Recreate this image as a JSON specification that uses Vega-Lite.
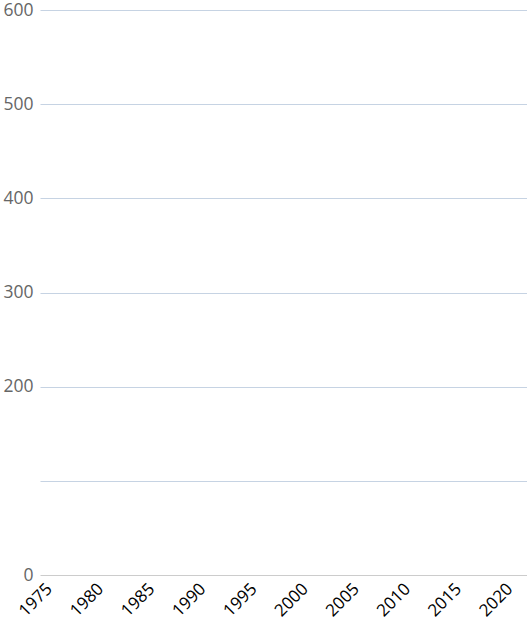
{
  "$schema": "https://vega.github.io/schema/vega-lite/v6.json",
  "autosize": "none",
  "width": 487,
  "height": 565,
  "padding": {"top": 10, "left": 40, "right": 0, "bottom": 46},
  "background": "white",
  "data": {
    "values": [
      {"year": 1975, "value": null},
      {"year": 1980, "value": null},
      {"year": 1985, "value": null},
      {"year": 1990, "value": null},
      {"year": 1995, "value": null},
      {"year": 2000, "value": null},
      {"year": 2005, "value": null},
      {"year": 2010, "value": null},
      {"year": 2015, "value": null},
      {"year": 2020, "value": null}
    ]
  },
  "mark": {"type": "line", "color": "#1f77b4"},
  "encoding": {
    "x": {
      "field": "year",
      "type": "quantitative",
      "scale": {"domain": [1974.1, 2021.7], "nice": false, "zero": false},
      "axis": {
        "title": null,
        "values": [1975, 1980, 1985, 1990, 1995, 2000, 2005, 2010, 2015, 2020],
        "format": "d",
        "labelAngle": -45,
        "labelAlign": "right",
        "labelBaseline": "middle",
        "labelColor": "#000000",
        "labelFontSize": 17,
        "labelPadding": 11,
        "labelOverlap": false,
        "grid": false,
        "domain": false,
        "ticks": false
      }
    },
    "y": {
      "field": "value",
      "type": "quantitative",
      "scale": {"domain": [0, 600], "nice": false},
      "axis": {
        "title": null,
        "values": [0, 100, 200, 300, 400, 500, 600],
        "labelExpr": "datum.value === 100 ? '' : datum.label",
        "labelColor": "#666666",
        "labelFontSize": 17.5,
        "labelPadding": 7,
        "labelOverlap": false,
        "domain": false,
        "ticks": false,
        "grid": true,
        "gridColor": {"condition": {"test": "datum.value === 0", "value": "#cccccc"}, "value": "#c6d3e3"},
        "gridWidth": 1
      }
    }
  },
  "config": {
    "font": "Open Sans",
    "view": {"stroke": null}
  }
}
